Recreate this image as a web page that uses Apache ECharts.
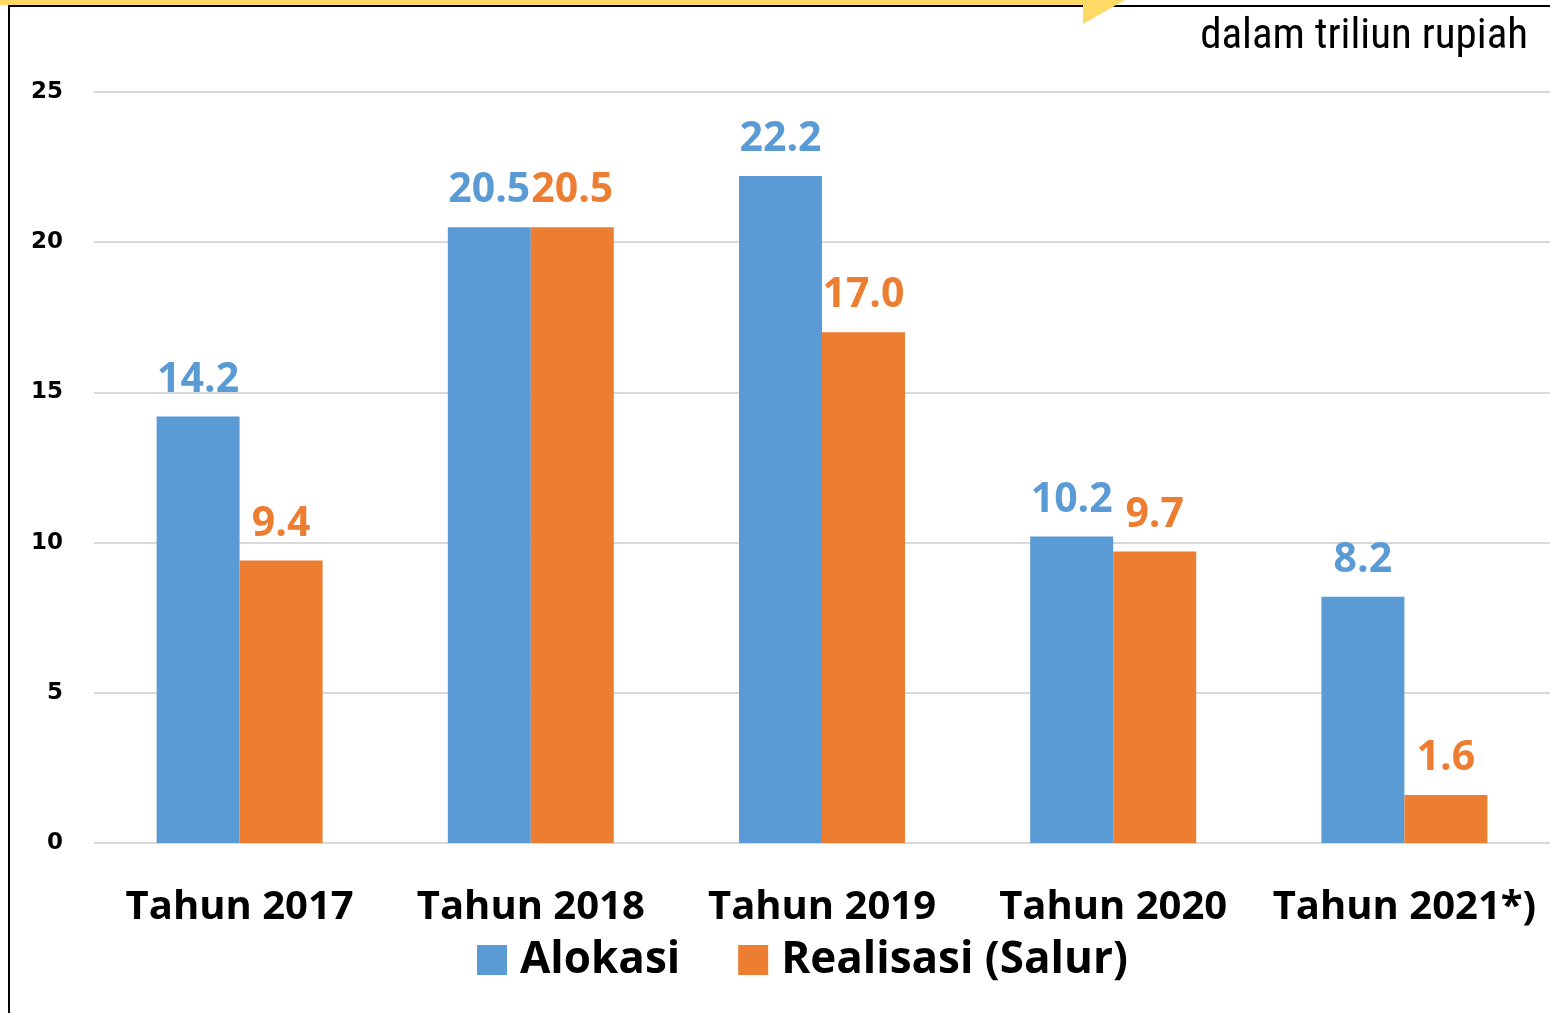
<!DOCTYPE html>
<html><head><meta charset="utf-8">
<script src="https://cdn.jsdelivr.net/npm/echarts@6/dist/echarts.min.js"></script>
<style>html,body{margin:0;padding:0;background:#fff}#c{width:1550px;height:1013px}</style>
</head><body><div id="c"></div>
<script>
const categories = ['Tahun 2017','Tahun 2018','Tahun 2019','Tahun 2020','Tahun 2021*)'];
const alokasi = [14.2, 20.5, 22.2, 10.2, 8.2];
const realisasi = [9.4, 20.5, 17.0, 9.7, 1.6];
const yTicks = [0,5,10,15,20,25];
const unitText = 'dalam triliun rupiah';

const chart = echarts.init(document.getElementById('c'));
const lbl = (color) => ({
  show: true, position: 'top', distance: 16, color: color,
  fontFamily: '"Open Sans", "Noto Sans", sans-serif', fontWeight: 'bold', fontSize: 41,
  formatter: p => p.value.toFixed(1)
});
chart.setOption({
  animation: false,
  grid: { left: 94, width: 1462, top: 92, bottom: 170, containLabel: false },
  xAxis: {
    type: 'category', data: categories,
    axisLine: { show: false }, axisTick: { show: false },
    axisLabel: { interval: 0, hideOverlap: false, margin: 45, color: '#000', fontSize: 40, fontWeight: 'bold',
      fontFamily: '"Open Sans", "Noto Sans", sans-serif' }
  },
  yAxis: {
    type: 'value', min: yTicks[0], max: yTicks[yTicks.length-1], interval: 5,
    axisLine: { show: false }, axisTick: { show: false },
    splitLine: { lineStyle: { color: '#d9d9d9', width: 2 } },
    axisLabel: { margin: 31, color: '#000', fontSize: 23, fontWeight: 'bold', padding: [4, 0, 0, 0],
      fontFamily: '"DejaVu Sans", sans-serif' }
  },
  legend: {
    bottom: 26, left: 472, itemWidth: 30, itemHeight: 30, itemGap: 58,
    icon: 'rect',
    textStyle: { color: '#000', fontSize: 44, fontWeight: 'bold', padding: [0, 0, 0, 8],
      fontFamily: '"Open Sans", "Noto Sans", sans-serif' },
    data: ['Alokasi','Realisasi (Salur)']
  },
  series: [
    { name: 'Alokasi', type: 'bar', data: alokasi, barGap: '0%', barCategoryGap: '43%',
      itemStyle: { color: '#5B9BD5' }, label: lbl('#5B9BD5') },
    { name: 'Realisasi (Salur)', type: 'bar', data: realisasi,
      itemStyle: { color: '#ED7D31' }, label: lbl('#ED7D31') }
  ],
  graphic: [
    { type: 'rect', shape: { x: 0, y: 0, width: 1095, height: 5 }, style: { fill: '#FFD966' } },
    { type: 'line', shape: { x1: 8, y1: 6, x2: 1550, y2: 6 }, style: { stroke: '#000', lineWidth: 2 } },
    { type: 'line', shape: { x1: 9, y1: 6, x2: 9, y2: 1013 }, style: { stroke: '#000', lineWidth: 2 } },
    { type: 'polygon', shape: { points: [[1083,0],[1125,0],[1083,24]] }, style: { fill: '#FFD966' } },
    { type: 'text', right: 22, top: 16, style: { text: unitText, fontSize: 43, fill: '#000',
      fontFamily: '"Liberation Sans Narrow", "Roboto Condensed", "Liberation Sans", sans-serif' } }
  ]
});
</script></body></html>
